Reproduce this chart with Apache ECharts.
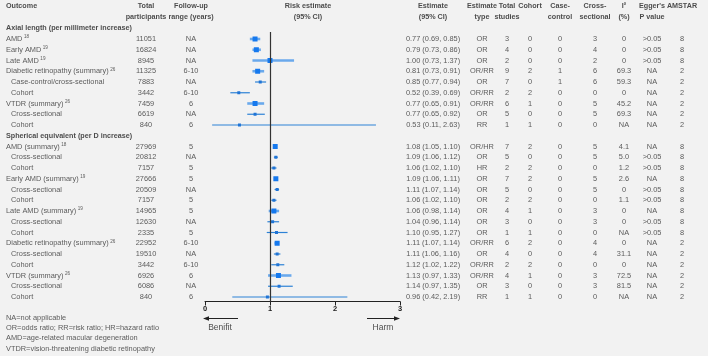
<!DOCTYPE html>
<html><head><meta charset="utf-8">
<script src="https://cdn.jsdelivr.net/npm/echarts@6/dist/echarts.min.js"></script>
<style>html,body{margin:0;padding:0;background:#f2f2f2}#c{width:708px;height:356px}</style>
</head><body><div id="c"></div>
<script>
// ---------------- DATA ----------------
const sectionTitles = ['Axial length (per millimeter increase)', 'Spherical equivalent (per D increase)'];
const sectionOf = [0,0,0,0,0,0,0,0,0, 1,1,1,1,1,1,1,1,1,1,1,1,1,1,1];
const outcome = ['AMD','Early AMD','Late AMD','Diabetic retinopathy (summary)','Case-control/cross-sectional','Cohort','VTDR (summary)','Cross-sectional','Cohort',
  'AMD (summary)','Cross-sectional','Cohort','Early AMD (summary)','Cross-sectional','Cohort','Late AMD (summary)','Cross-sectional','Cohort',
  'Diabetic retinopathy (summary)','Cross-sectional','Cohort','VTDR (summary)','Cross-sectional','Cohort'];
const refNo = ['18','19','19','26','','','26','','', '18','','','19','','','19','','','26','','','26','',''];
const isSubgroup = [0,0,0,0,1,1,0,1,1, 0,1,1,0,1,1,0,1,1,0,1,1,0,1,1];
const participants = ['11051','16824','8945','11325','7883','3442','7459','6619','840',
  '27969','20812','7157','27666','20509','7157','14965','12630','2335','22952','19510','3442','6926','6086','840'];
const followUp = ['NA','NA','NA','6-10','NA','6-10','6','NA','6',
  '5','NA','5','5','NA','5','5','NA','5','6-10','NA','6-10','6','NA','6'];
const estimate = [0.77,0.79,1.00,0.81,0.85,0.52,0.77,0.77,0.53, 1.08,1.09,1.06,1.09,1.11,1.06,1.06,1.04,1.10,1.11,1.11,1.12,1.13,1.14,0.96];
const lower    = [0.69,0.73,0.73,0.73,0.77,0.39,0.65,0.65,0.11, 1.05,1.06,1.02,1.06,1.07,1.02,0.98,0.96,0.95,1.07,1.06,1.02,0.97,0.97,0.42];
const upper    = [0.85,0.86,1.37,0.91,0.94,0.69,0.91,0.92,2.63, 1.10,1.12,1.10,1.11,1.14,1.10,1.14,1.14,1.27,1.14,1.16,1.22,1.33,1.35,2.19];
const estType = ['OR','OR','OR','OR/RR','OR','OR/RR','OR/RR','OR','RR',
  'OR/HR','OR','HR','OR','OR','OR','OR','OR','OR','OR/RR','OR','OR/RR','OR/RR','OR','RR'];
const totalStudies = [3,4,2,9,7,2,6,5,1, 7,5,2,7,5,2,4,3,1,6,4,2,4,3,1];
const cohortN = [0,0,0,2,0,2,1,0,1, 2,0,2,2,0,2,1,0,1,2,0,2,1,0,1];
const caseControlN = [0,0,0,1,1,0,0,0,0, 0,0,0,0,0,0,0,0,0,0,0,0,0,0,0];
const crossSectionalN = [3,4,2,6,6,0,5,5,0, 5,5,0,5,5,0,3,3,0,4,4,0,3,3,0];
const iSquared = ['0','0','0','69.3','59.3','0','45.2','69.3','NA',
  '4.1','5.0','1.2','2.6','0','1.1','0','0','NA','0','31.1','0','72.5','81.5','NA'];
const egger = ['>0.05','>0.05','>0.05','NA','NA','NA','NA','NA','NA',
  'NA','>0.05','>0.05','NA','>0.05','>0.05','NA','>0.05','>0.05','NA','NA','NA','NA','NA','NA'];
const amstar = [8,8,8,2,2,2,2,2,2, 8,8,8,8,8,8,8,8,8,2,2,2,2,2,2];
const xTicks = [0,1,2,3];
const headerLine1 = ['Outcome','Total','Follow-up','Risk estimate','Estimate','Estimate','Total','Cohort','Case-','Cross-','I\u00B2','Egger\'s','AMSTAR'];
const headerLine2 = ['','participants','range (years)','(95% CI)','(95% CI)','type','studies','','control','sectional','(%)','P value',''];
const footnotes = ['NA=not applicable','OR=odds ratio; RR=risk ratio; HR=hazard ratio','AMD=age-related macular degeneration','VTDR=vision-threatening diabetic retinopathy'];

// ---------------- LAYOUT ----------------
const FONT = "'Liberation Sans', Arial, sans-serif";
const FS = 7.4;
const ROW0 = 28.25, ROWH = 10.75; // pixel y of row k = ROW0 + ROWH*k
const H = 356, W = 708;
const kOf = y => (y - ROW0) / ROWH;
const colX = [6, 146, 191, 308, 433, 482, 507, 530, 560, 595, 624, 652, 682];

// assign row indices
const rowK = [];
const sectionK = [];
let k = 0, prevSec = -1;
for (let i = 0; i < outcome.length; i++) {
  if (sectionOf[i] !== prevSec) { sectionK.push(k); k++; prevSec = sectionOf[i]; }
  rowK.push(k); k++;
}

function txtSeries(items, align, style) {
  return {
    type: 'scatter', xAxisIndex: 1, yAxisIndex: 1, symbolSize: 0, silent: true, clip: false,
    data: items.map(it => ({ value: [it.x, it.k], text: it.text, sup: it.sup || '',
      label: it.align ? { align: it.align } : undefined })),
    label: Object.assign({
      show: true, position: 'inside', align: align, verticalAlign: 'middle',
      fontFamily: FONT, fontSize: FS, color: '#333', lineHeight: 9,
      formatter: p => p.data.sup ? p.data.text + '{sup|' + p.data.sup + '}' : p.data.text,
      rich: { sup: { fontFamily: FONT, fontSize: 4.6, lineHeight: 5, verticalAlign: 'top', color: '#333', padding: [0,0,0,1.5] } }
    }, style || {})
  };
}

const series = [];
// forest CI + point estimates
series.push({
  type: 'custom', xAxisIndex: 0, yAxisIndex: 0, silent: true, clip: false,
  data: estimate.map((e, i) => [lower[i], upper[i], e, rowK[i], isSubgroup[i]]),
  encode: { x: [0, 1, 2], y: 3 },
  renderItem: function (params, api) {
    const lo = api.coord([api.value(0), api.value(3)]);
    const hi = api.coord([api.value(1), api.value(3)]);
    const pe = api.coord([api.value(2), api.value(3)]);
    const sub = api.value(4) === 1;
    const s = sub ? 3 : 5;
    return { type: 'group', children: [
      { type: 'line', shape: { x1: lo[0], y1: lo[1], x2: hi[0], y2: hi[1] },
        style: { stroke: sub ? '#2d82d6' : '#6aa9ec', lineWidth: sub ? 1.2 : 2.6 } },
      { type: 'rect', shape: { x: pe[0] - s / 2, y: pe[1] - s / 2, width: s, height: s },
        style: { fill: sub ? '#1f74d6' : '#1679ee' } }
    ]};
  },
  markLine: { silent: true, symbol: 'none', label: { show: false },
    lineStyle: { color: '#333', width: 1.2, type: 'solid' }, data: [{ xAxis: 1 }] }
});

const headStyle = { fontWeight: 'bold', color: '#222', fontSize: 7.2 };
// headers
series.push(txtSeries(headerLine1.map((t, j) => ({ x: colX[j], k: kOf(6.5), text: t, align: j === 0 ? 'left' : 'center' })).filter(d => d.text), 'center', headStyle));
series.push(txtSeries(headerLine2.map((t, j) => ({ x: colX[j], k: kOf(17.5), text: t, align: j === 0 ? 'left' : 'center' })).filter(d => d.text), 'center', headStyle));
// section titles
series.push(txtSeries(sectionTitles.map((t, j) => ({ x: colX[0], k: sectionK[j], text: t })), 'left', headStyle));
// outcome labels
series.push(txtSeries(outcome.map((t, i) => ({ x: colX[0] + (isSubgroup[i] ? 5 : 0), k: rowK[i], text: t, sup: refNo[i] })), 'left'));
// numeric/text columns
const cols = [
  participants, followUp, null,
  estimate.map((e, i) => e.toFixed(2) + ' (' + lower[i].toFixed(2) + ', ' + upper[i].toFixed(2) + ')'),
  estType, totalStudies, cohortN, caseControlN, crossSectionalN, iSquared, egger, amstar
];
cols.forEach((arr, j) => {
  if (!arr) return;
  series.push(txtSeries(arr.map((v, i) => ({ x: colX[j + 1], k: rowK[i], text: String(v) })), 'center'));
});
// footnotes
series.push(txtSeries(footnotes.map((t, j) => ({ x: colX[0], k: kOf(318 + 10.2 * j), text: t })), 'left'));
// Benefit / Harm
series.push(txtSeries([{ x: 220, k: kOf(328), text: 'Benifit' }, { x: 383, k: kOf(328), text: 'Harm' }], 'center', { fontSize: 8.5, color: '#222' }));

const chart = echarts.init(document.getElementById('c'), null, { renderer: 'canvas' });
chart.setOption({
  backgroundColor: '#f2f2f2',
  animation: false,
  grid: [
    { left: 205, width: 195, top: 32, height: 269.5 },
    { left: 0, right: 0, top: 0, bottom: 0 }
  ],
  xAxis: [
    { gridIndex: 0, type: 'value', min: xTicks[0], max: xTicks[xTicks.length - 1], interval: 1,
      splitLine: { show: false },
      axisLine: { lineStyle: { color: '#222', width: 1 } },
      axisTick: { length: 4, lineStyle: { color: '#222' } },
      axisLabel: { fontFamily: FONT, fontSize: 7.5, fontWeight: 'bold', color: '#222', margin: 3 } },
    { gridIndex: 1, type: 'value', min: 0, max: W, show: false }
  ],
  yAxis: [
    { gridIndex: 0, type: 'value', inverse: true, min: kOf(32), max: kOf(301.5), show: false },
    { gridIndex: 1, type: 'value', inverse: true, min: kOf(0), max: kOf(H), show: false }
  ],
  graphic: [
    { type: 'line', shape: { x1: 238, y1: 318.5, x2: 207, y2: 318.5 }, style: { stroke: '#222', lineWidth: 1 } },
    { type: 'polygon', shape: { points: [[203, 318.5], [209, 316.3], [209, 320.7]] }, style: { fill: '#222' } },
    { type: 'line', shape: { x1: 367, y1: 318.5, x2: 396, y2: 318.5 }, style: { stroke: '#222', lineWidth: 1 } },
    { type: 'polygon', shape: { points: [[400, 318.5], [394, 316.3], [394, 320.7]] }, style: { fill: '#222' } }
  ],
  series: series
});
</script>
</body></html>
